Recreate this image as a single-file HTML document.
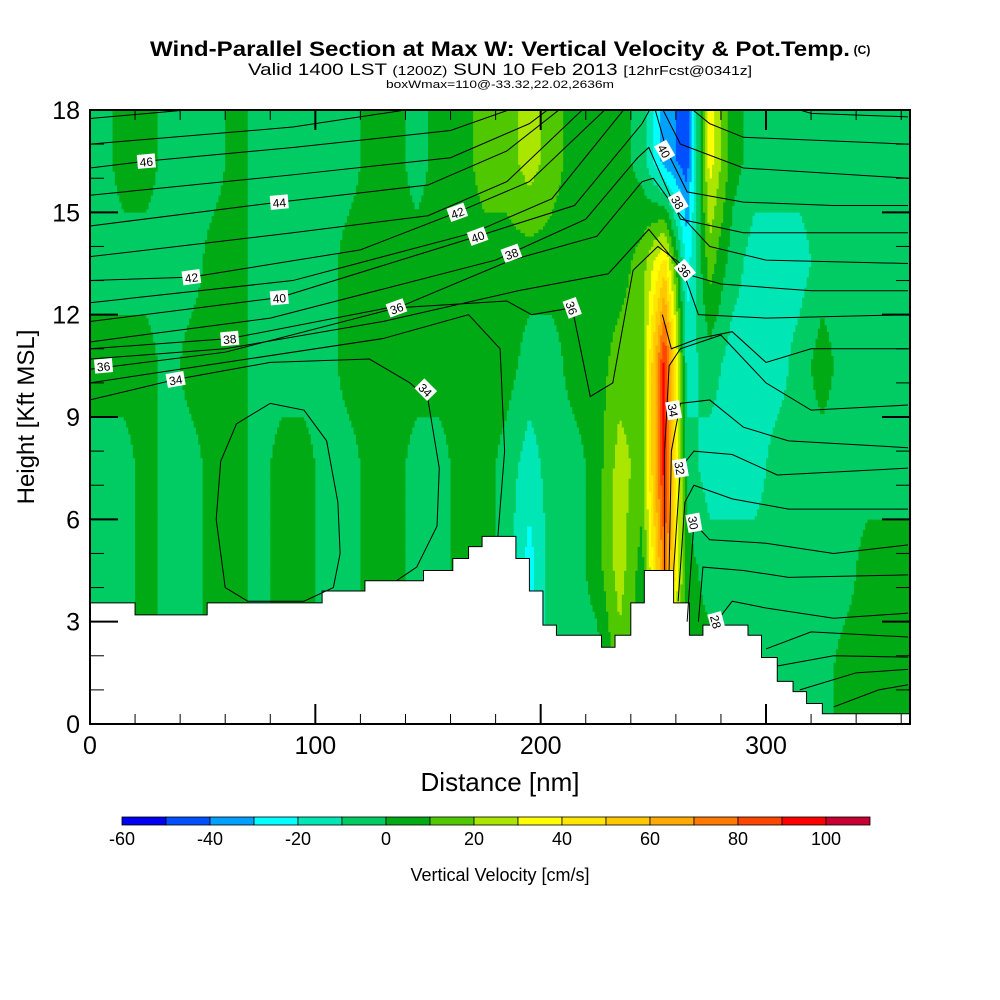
<!DOCTYPE html>
<html><head><meta charset="utf-8"><style>
html,body{margin:0;padding:0;background:#fff;}
svg{display:block;font-family:"Liberation Sans",sans-serif;}
</style></head><body>
<svg id="chart" width="1000" height="1000" viewBox="0 0 1000 1000">
<defs><clipPath id="plotclip"><rect x="90" y="110" width="820" height="614"/></clipPath></defs>
<text x="500" y="56" text-anchor="middle" font-size="21" font-weight="bold" textLength="700" lengthAdjust="spacingAndGlyphs">Wind-Parallel Section at Max W: Vertical Velocity &amp; Pot.Temp.</text>
<text x="862" y="54" text-anchor="middle" font-size="12" font-weight="bold">(C)</text>
<text x="500" y="75" text-anchor="middle" font-size="17" textLength="504" lengthAdjust="spacingAndGlyphs">Valid 1400 LST <tspan font-size="13">(1200Z)</tspan> SUN 10 Feb 2013 <tspan font-size="13">[12hrFcst@0341z]</tspan></text>
<text x="500" y="88" text-anchor="middle" font-size="11" textLength="228" lengthAdjust="spacingAndGlyphs">boxWmax=110@-33.32,22.02,2636m</text>
<g id="field" clip-path="url(#plotclip)"></g>
<g id="terrain"></g>
<g id="contours" clip-path="url(#plotclip)"></g>
<g id="labels"></g>
<rect x="90" y="110" width="820" height="614" fill="none" stroke="#000" stroke-width="2"/>
<g id="axes"></g>
<text x="500" y="791" text-anchor="middle" font-size="26">Distance [nm]</text>
<text transform="translate(34,417) rotate(-90)" text-anchor="middle" font-size="24">Height [Kft MSL]</text>
<g id="colorbar"></g>
<text x="500" y="881" text-anchor="middle" font-size="18">Vertical Velocity [cm/s]</text>
</svg>
<script>
// ---- data ----
const colCentersNm = [5,15,25,35,45,55,65,75,85,95,105,115,125,135,145,155,165,175,185,195,205,215,225,235,245,255,265,275,285,295,305,315,325,335,345,355,365];
const rowCentersKft = [1.5,4.5,7.5,10.5,13.5,16.5];
const wRow0 = [-5,-5,5,-5,-5,5,5,-5,5,5,-5,-5,5,5,-5,-5,5,5,-5,-15,-5,-5,-5,15,5,5,5,5,-5,-5,-5,-5,-5,5,5,5,5];
const wRow1 = [-5,-5,5,-5,-5,5,5,-5,5,5,-5,-5,5,5,-5,-5,5,5,-5,-25,-5,-5,5,25,5,75,5,-5,-5,-5,-5,-5,-5,-5,5,5,5];
const wRow2 = [-5,-5,5,-5,-5,5,5,-5,5,5,-5,-5,5,5,-5,-5,5,5,-5,-15,-5,-5,5,25,15,95,-5,-15,-15,-15,-5,-5,-5,-5,-5,-5,-5];
const wRow3 = [5,5,5,-5,5,5,5,-5,-5,-5,-5,5,5,5,5,5,5,5,5,-5,-5,5,5,15,15,95,-15,-5,-15,-15,-15,-5,5,-5,-5,-5,-5];
const wRow4 = [-5,-5,-5,-5,-5,5,5,-5,-5,-5,-5,5,5,5,5,5,5,5,5,5,5,5,5,5,15,45,-25,15,-5,-15,-15,-15,-5,-5,-5,-5,-5];
const wRow5 = [-5,5,5,-5,-5,-5,5,-5,-5,-5,-5,-5,5,5,-5,5,5,15,15,25,15,5,5,5,-5,-35,-45,35,5,-5,-5,-5,-5,-5,-5,-5,-5];
const terrainEdgesNm = [0,20,52,103,122,148,161,168,174,189,195,201,207,227,233,240,246,259,266,272,292,298,305,312,318,325,364];
const terrainKft = [3.55,3.2,3.55,3.9,4.2,4.5,4.85,5.2,5.5,4.85,3.9,2.9,2.6,2.25,2.6,3.55,4.5,3.55,2.6,2.9,2.6,1.95,1.25,0.95,0.6,0.3];
const levels = [-60,-50,-40,-30,-20,-10,0,10,20,30,40,50,60,70,80,90,100,110];
const levelLabels = [-60,-40,-20,0,20,40,60,80,100];
const xTicks = [0,100,200,300];
const yTicks = [0,3,6,9,12,15,18];
const contourTheta = [48,47,46,45,44,43,42,41,40,39,38,37,36,35,35,34,34,33,33,32,31,30,29,28,27,26,25,24];
const contourPts = [
 [[0,17.75],[60,18.1]],
 [[0,17.0],[90,17.5],[150,18.1]],
 [[0,16.3],[25,16.5],[90,16.9],[160,17.4],[190,18.1]],
 [[0,15.5],[90,16.1],[160,16.6],[195,17.6],[205,18.1]],
 [[0,14.6],[84,15.3],[150,15.8],[185,16.8],[210,18.1]],
 [[0,13.7],[90,14.4],[150,14.9],[185,15.9],[220,18.1],[300,18.3],[320,17.9],[363,17.8]],
 [[0,13.0],[45,13.1],[120,13.9],[163,15.0],[195,15.9],[230,18.1],[262,18.3],[275,17.6],[290,17.2],[363,17.0]],
 [[0,12.35],[90,13.0],[170,14.4],[205,15.4],[238,18.1],[252,18.3],[262,17.0],[290,16.3],[363,16.0]],
 [[0,11.8],[84,12.5],[172,14.3],[215,15.2],[245,17.6],[250,18.2],[256,16.8],[265,15.6],[290,15.3],[330,15.2],[363,15.2]],
 [[0,11.2],[80,11.9],[180,13.6],[220,14.8],[243,16.6],[248,16.9],[262,14.8],[290,14.4],[363,14.4]],
 [[0,11.0],[62,11.3],[140,12.3],[187,13.6],[225,14.3],[245,15.9],[250,16.0],[261,15.0],[275,14.0],[300,13.6],[363,13.5]],
 [[0,10.7],[60,11.0],[130,11.8],[190,12.7],[230,13.2],[248,14.5],[264,13.2],[280,12.9],[320,12.7],[363,12.7]],
 [[0,10.4],[60,10.9],[136,12.2],[185,12.4],[196,12.0],[214,12.2],[222,9.6],[232,10.0],[241,13.3],[252,14.0],[262,13.5],[270,12.0],[300,11.9],[363,12.0]],
 [[0,10.0],[60,10.6],[130,11.3],[168,12.0],[182,11.0],[184,8.0],[181,5.5]],
 [[254,12.0],[258,11.0],[270,11.3],[285,11.5],[300,10.6],[320,11.0],[363,11.0]],
 [[0,9.5],[38,10.1],[80,10.6],[124,10.7],[142,10.0],[150,9.5],[155,7.5],[154,5.8],[145,4.6],[136,4.2]],
 [[255,4.5],[255,8.0],[257,10.5],[262,11.0],[280,11.4],[300,10.0],[320,9.2],[363,9.35]],
 [[60,4.0],[56,6.0],[58,7.7],[65,8.8],[80,9.4],[95,9.2],[105,8.3],[110,6.5],[111,5.0],[108,4.0],[95,3.6],[70,3.6],[60,4.0]],
 [[257,4.5],[258,8.0],[262,9.4],[275,9.5],[290,8.7],[310,8.3],[363,8.1]],
 [[259,4.5],[262,7.5],[268,8.0],[285,7.9],[305,7.3],[363,7.5]],
 [[261,3.6],[264,6.5],[268,7.0],[285,6.6],[310,6.3],[363,6.3]],
 [[265,3.0],[268,5.9],[275,5.4],[300,5.3],[330,5.0],[363,5.25]],
 [[270,3.0],[272,4.6],[290,4.5],[310,4.3],[363,4.37]],
 [[278,3.0],[285,3.6],[300,3.4],[330,3.1],[363,3.25]],
 [[300,2.2],[320,2.7],[363,2.55]],
 [[305,1.7],[330,2.0],[363,1.96]],
 [[315,1.0],[340,1.5],[363,1.6]],
 [[330,0.5],[350,1.0],[363,1.15]]
];
const labelText = ["46","44","42","42","40","40","40","38","38","38","36","36","36","36","34","34","34","32","30","28"];
const labelNm = [25,84,45,163,84,172,255,62,187,261,6,136,214,264,38,149,259,262,268,278];
const labelKft = [16.5,15.3,13.1,15.0,12.5,14.3,16.8,11.3,13.8,15.3,10.5,12.2,12.2,13.3,10.1,9.8,9.2,7.5,5.9,3.0];
const labelAngle = [-5,-5,-8,-20,-5,-20,60,-5,-20,60,-5,-20,70,50,-10,45,80,80,80,75];

// ---- scales ----
const X0=90, X1=910, Y0=724, Y1=110, XMAX=363.9, YMAX=18;
const xs = nm => X0 + nm*(X1-X0)/XMAX;
const ys = k => Y0 - k*(Y0-Y1)/YMAX;
const NS="http://www.w3.org/2000/svg";
const mk=(t,a,p)=>{const e=document.createElementNS(NS,t);for(const k in a)e.setAttribute(k,a[k]);p.appendChild(e);return e;};
const colors=["#0000f0","#0050ff","#00a0ff","#00ffff","#00e6b4","#00cc64","#00aa14","#50c800","#aae600","#ffff00","#ffe600","#ffc800","#ffaa00","#ff7800","#ff4600","#ff0000","#c80032"];
function colorFor(v){let i=0;while(i<levels.length-2&&v>=levels[i+1])i++;return colors[i];}
const wRows=[wRow0,wRow1,wRow2,wRow3,wRow4,wRow5];
function interp(nm,k){
 const nc=colCentersNm.length, nr=rowCentersKft.length;
 let cx=(nm-colCentersNm[0])/(colCentersNm[1]-colCentersNm[0]); cx=Math.max(0,Math.min(nc-1.0001,cx));
 let cy=(k-rowCentersKft[0])/(rowCentersKft[1]-rowCentersKft[0]); cy=Math.max(0,Math.min(nr-1.0001,cy));
 const i=Math.floor(cx),j=Math.floor(cy),fx=cx-i,fy=cy-j;
 const a=wRows[j][i],b=wRows[j][i+1],c=wRows[j+1][i],d=wRows[j+1][i+1];
 return (a*(1-fx)+b*fx)*(1-fy)+(c*(1-fx)+d*fx)*fy;
}
// ---- field ----
const field=document.getElementById('field');
const dnm=1, dk=0.1;
for(let k=0;k<YMAX;k+=dk){
 let start=0, cur=colorFor(interp(0.5,k+dk/2));
 for(let nm=dnm;nm<=XMAX+dnm;nm+=dnm){
  const c = nm<XMAX ? colorFor(interp(nm+dnm/2,k+dk/2)) : null;
  if(c!==cur){
   const r=mk('rect',{x:xs(start),y:ys(k+dk)-0.3,width:xs(nm)-xs(start)+0.4,height:ys(k)-ys(k+dk)+0.6,fill:cur},field);
   
   
   start=nm; cur=c;
  }
 }
}
// ---- terrain ----
const ter=document.getElementById('terrain');
let d=`M${xs(0)},${ys(0)}`;
for(let i=0;i<terrainKft.length;i++){d+=` L${xs(terrainEdgesNm[i])},${ys(terrainKft[i])} L${Math.min(X1,xs(terrainEdgesNm[i+1]))},${ys(terrainKft[i])}`;}
d+=` L${X1},${ys(0)} Z`;
const tp=mk('path',{d:d,fill:"#fff",stroke:"#000","stroke-width":1},ter);


// ---- contours ----
const cg=document.getElementById('contours');
contourPts.forEach((pts,i)=>{
 const pl=mk('polyline',{points:pts.map(p=>xs(p[0])+','+ys(p[1])).join(' '),fill:'none',stroke:'#000','stroke-width':1},cg);
 
 
});
const lg=document.getElementById('labels');
labelText.forEach((t,i)=>{
 const g=mk('g',{transform:`translate(${xs(labelNm[i])},${ys(labelKft[i])}) rotate(${labelAngle[i]})`},lg);
 
 
 mk('rect',{x:-9,y:-7,width:18,height:14,fill:'#fff'},g);
 const tx=mk('text',{x:0,y:5,'text-anchor':'middle','font-size':12},g); tx.textContent=t;
});
// ---- axes ----
const ax=document.getElementById('axes');
for(let nm=0;nm<=360;nm+=20){
 const maj=nm%100===0, L=maj?20:10;
 mk('line',{x1:xs(nm),x2:xs(nm),y1:Y0,y2:Y0-L,stroke:'#000','stroke-width':maj?2:1},ax);
 mk('line',{x1:xs(nm),x2:xs(nm),y1:Y1,y2:Y1+L,stroke:'#000','stroke-width':maj?2:1},ax);
}
for(let k=0;k<=18;k++){
 const maj=k%3===0, L=maj?28:14;
 mk('line',{x1:X0,x2:X0+L,y1:ys(k),y2:ys(k),stroke:'#000','stroke-width':maj?2:1},ax);
 mk('line',{x1:X1,x2:X1-L,y1:ys(k),y2:ys(k),stroke:'#000','stroke-width':maj?2:1},ax);
}
xTicks.forEach(v=>{const t=mk('text',{x:xs(v),y:754,'text-anchor':'middle','font-size':25},ax);t.textContent=v;
 });
yTicks.forEach(v=>{const t=mk('text',{x:80,y:ys(v)+9,'text-anchor':'end','font-size':25},ax);t.textContent=v;
 });
// ---- colorbar ----
const cb=document.getElementById('colorbar');
const CB0=122, CB1=870, cbx=v=>CB0+(v-levels[0])*(CB1-CB0)/(levels[levels.length-1]-levels[0]);
for(let i=0;i<levels.length-1;i++){
 const r=mk('rect',{x:cbx(levels[i]),y:817,width:cbx(levels[i+1])-cbx(levels[i]),height:8,fill:colors[i],stroke:'#000','stroke-width':0.8},cb);
 
 
}
levelLabels.forEach(v=>{const t=mk('text',{x:cbx(v),y:845,'text-anchor':'middle','font-size':18},cb);t.textContent=v;
 });
</script>
</body></html>
